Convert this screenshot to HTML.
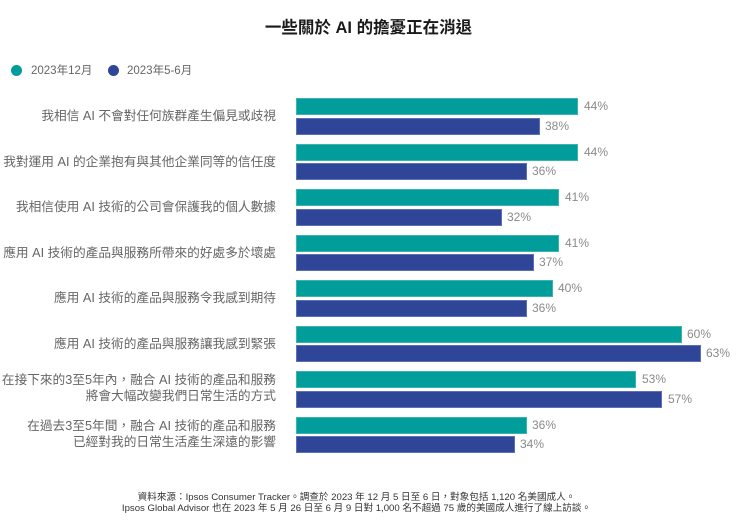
<!DOCTYPE html>
<html>
<head>
<meta charset="utf-8">
<style>
html,body{margin:0;padding:0;background:#fff;}
body{width:737px;height:522px;position:relative;overflow:hidden;font-family:"Liberation Sans","Noto Sans CJK TC",sans-serif;}
.title{position:absolute;left:0;width:737px;top:18px;text-align:center;font-size:16.5px;font-weight:bold;color:#1a1a1a;line-height:20px;}
.leg{position:absolute;top:63px;font-size:11.5px;color:#666;line-height:16px;}
.dot{position:absolute;width:11px;height:11px;border-radius:50%;top:65px;}
.lab{position:absolute;right:461px;text-align:right;font-size:12.7px;color:#666;line-height:16px;white-space:nowrap;}
.bar{position:absolute;left:296px;height:17px;box-sizing:border-box;}
.t{background:#009d9a;border:1px solid #3db3b0;}
.n{background:#2f4598;border:1px solid #5d70b7;}
.pct{position:absolute;font-size:12px;color:#8a8a8a;line-height:17px;}
.foot{position:absolute;left:-12px;width:737px;top:492px;text-align:center;font-size:9.6px;color:#333;line-height:11px;}
</style>
</head>
<body>
<div class="title">一些關於 AI 的擔憂正在消退</div>

<div class="dot" style="left:11px;background:#009d9a;"></div>
<div class="leg" style="left:31px;">2023年12月</div>
<div class="dot" style="left:108px;background:#2f4598;"></div>
<div class="leg" style="left:127px;">2023年5-6月</div>

<!-- group 1 -->
<div class="lab" style="top:108px;">我相信 AI 不會對任何族群產生偏見或歧視</div>
<div class="bar t" style="top:98px;width:282px;"></div>
<div class="pct" style="top:98px;left:584px;">44%</div>
<div class="bar n" style="top:117.5px;width:244px;"></div>
<div class="pct" style="top:117.5px;left:545px;">38%</div>

<!-- group 2 -->
<div class="lab" style="top:153.5px;">我對運用 AI 的企業抱有與其他企業同等的信任度</div>
<div class="bar t" style="top:143.5px;width:282px;"></div>
<div class="pct" style="top:143.5px;left:584px;">44%</div>
<div class="bar n" style="top:163px;width:231px;"></div>
<div class="pct" style="top:163px;left:532px;">36%</div>

<!-- group 3 -->
<div class="lab" style="top:199px;">我相信使用 AI 技術的公司會保護我的個人數據</div>
<div class="bar t" style="top:189px;width:263px;"></div>
<div class="pct" style="top:189px;left:565px;">41%</div>
<div class="bar n" style="top:208.5px;width:205.5px;"></div>
<div class="pct" style="top:208.5px;left:507px;">32%</div>

<!-- group 4 -->
<div class="lab" style="top:244.5px;">應用 AI 技術的產品與服務所帶來的好處多於壞處</div>
<div class="bar t" style="top:234.5px;width:263px;"></div>
<div class="pct" style="top:234.5px;left:565px;">41%</div>
<div class="bar n" style="top:254px;width:237.5px;"></div>
<div class="pct" style="top:254px;left:539px;">37%</div>

<!-- group 5 -->
<div class="lab" style="top:290px;">應用 AI 技術的產品與服務令我感到期待</div>
<div class="bar t" style="top:280px;width:257px;"></div>
<div class="pct" style="top:280px;left:558px;">40%</div>
<div class="bar n" style="top:299.5px;width:231px;"></div>
<div class="pct" style="top:299.5px;left:532px;">36%</div>

<!-- group 6 -->
<div class="lab" style="top:335.5px;">應用 AI 技術的產品與服務讓我感到緊張</div>
<div class="bar t" style="top:325.5px;width:385.5px;"></div>
<div class="pct" style="top:325.5px;left:687px;">60%</div>
<div class="bar n" style="top:345px;width:404.5px;"></div>
<div class="pct" style="top:345px;left:706px;">63%</div>

<!-- group 7 -->
<div class="lab" style="top:372px;">在接下來的3至5年內，融合 AI 技術的產品和服務<br>將會大幅改變我們日常生活的方式</div>
<div class="bar t" style="top:371px;width:340px;"></div>
<div class="pct" style="top:371px;left:642px;">53%</div>
<div class="bar n" style="top:390.5px;width:366px;"></div>
<div class="pct" style="top:390.5px;left:668px;">57%</div>

<!-- group 8 -->
<div class="lab" style="top:418px;">在過去3至5年間，融合 AI 技術的產品和服務<br>已經對我的日常生活產生深遠的影響</div>
<div class="bar t" style="top:416.5px;width:231px;"></div>
<div class="pct" style="top:416.5px;left:532px;">36%</div>
<div class="bar n" style="top:436px;width:218.5px;"></div>
<div class="pct" style="top:436px;left:520px;">34%</div>

<div class="foot">資料來源：Ipsos Consumer Tracker。調查於 2023 年 12 月 5 日至 6 日，對象包括 1,120 名美國成人。<br>Ipsos Global Advisor 也在 2023 年 5 月 26 日至 6 月 9 日對 1,000 名不超過 75 歲的美國成人進行了線上訪談。</div>
</body>
</html>
